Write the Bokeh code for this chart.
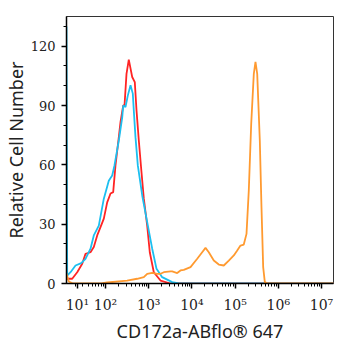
import numpy as np
from bokeh.plotting import figure
from bokeh.models import Range1d, FixedTicker
from bokeh.embed import file_html
from bokeh.resources import INLINE

# x positions in log10 display units (decades), y = relative cell number
red_x = [1.097, 1.229, 1.345, 1.461, 1.537, 1.653, 1.729, 1.808, 1.884, 1.961, 2.039, 2.116, 2.178,
         2.231, 2.308, 2.347, 2.410, 2.440, 2.486, 2.539, 2.618, 2.678, 2.718, 2.771, 2.826, 2.887,
         2.965, 3.025, 3.118, 3.273, 3.505, 7.28]
red_y = [2.4, 2.4, 5.7, 10.0, 15.0, 15.8, 18.4, 24.3, 28.5, 32.8, 41.0, 45.5, 46.2,
         59.7, 74.0, 81.6, 90.0, 90.0, 106.0, 113.2, 104.4, 101.8, 87.5, 72.3, 58.0, 42.9,
         29.3, 15.8, 5.7, 1.5, 0.0, 0.0]

blue_x = [1.097, 1.113, 1.190, 1.306, 1.437, 1.537, 1.653, 1.729, 1.845, 1.961, 2.076, 2.155, 2.208,
          2.308, 2.387, 2.410, 2.463, 2.516, 2.579, 2.632, 2.655, 2.694, 2.748, 2.850, 2.965,
          3.081, 3.181, 3.312, 3.544, 3.700, 7.28]
blue_y = [130.0, 4.0, 5.7, 9.1, 10.3, 12.5, 17.6, 24.3, 29.3, 42.9, 52.0, 54.6, 59.7,
          72.3, 84.0, 90.0, 89.2, 95.0, 100.2, 96.0, 87.5, 74.0, 59.7, 44.5, 31.0,
          17.6, 7.4, 3.2, 0.7, 0.0, 0.0]

orange_x = [1.097, 1.150, 1.250, 1.900, 2.039, 2.500, 2.733, 2.887, 2.965, 3.081, 3.197, 3.273, 3.350,
            3.505, 3.544, 3.660, 3.736, 3.812, 3.968, 4.123, 4.238, 4.315, 4.391, 4.507, 4.623,
            4.738, 4.854, 4.970, 5.049, 5.125, 5.201, 5.264, 5.317, 5.373, 5.433, 5.472, 5.512,
            5.572, 5.611, 5.650, 5.688, 5.750, 7.28]
orange_y = [5.0, 1.0, 0.0, 0.0, 0.5, 1.5, 2.4, 3.2, 4.9, 5.4, 4.9, 4.9, 5.7,
            6.1, 6.1, 5.3, 6.6, 6.9, 8.3, 12.5, 15.8, 18.0, 15.8, 11.6, 9.6,
            9.1, 11.6, 14.2, 16.7, 19.2, 19.7, 25.1, 47.0, 80.8, 106.0, 112.0, 106.0,
            72.3, 38.6, 8.3, 0.7, 0.0, 0.0]

x_tick_pos = [1.35, 2, 3, 4, 5, 6, 7]
x_tick_labels = ["10¹", "10²", "10³", "10⁴", "10⁵", "10⁶", "10⁷"]
y_ticks = [0, 30, 60, 90, 120]

p = figure(width=346, height=350, output_backend="svg", toolbar_location=None,
           x_range=Range1d(1.097, 7.278), y_range=Range1d(0, 135),
           min_border_left=66, min_border_right=13, min_border_top=16, min_border_bottom=67)
p.background_fill_color = "white"
p.border_fill_color = "white"
p.outline_line_color = "#333333"
p.outline_line_width = 1
p.xgrid.visible = False
p.ygrid.visible = False

p.line(red_x, red_y, line_color="#ff2424", line_width=1.8)
p.line(blue_x, blue_y, line_color="#1cbff0", line_width=1.8)
p.line(orange_x, orange_y, line_color="#ff9a30", line_width=1.8)

minor_x = [k + np.log10(m) for k in range(1, 8) for m in range(2, 10) if k + np.log10(m) < 7.278]
p.xaxis.ticker = FixedTicker(ticks=x_tick_pos, minor_ticks=minor_x)
p.xaxis.major_label_overrides = {t: l for t, l in zip(x_tick_pos, x_tick_labels)}
p.yaxis.ticker = FixedTicker(ticks=y_ticks, minor_ticks=list(range(0, 140, 10)))

for ax in (p.xaxis, p.yaxis):
    ax.axis_line_color = "black"
    ax.axis_line_width = 1.5
    ax.major_tick_line_color = "black"
    ax.minor_tick_line_color = "black"
    ax.major_tick_line_width = 1.5
    ax.minor_tick_line_width = 1
    ax.major_tick_out = 5
    ax.major_tick_in = 0
    ax.minor_tick_out = 3
    ax.minor_tick_in = 0
    ax.major_label_text_font = "DejaVu Serif"
    ax.major_label_text_color = "#222222"
    ax.axis_label_text_font = "Noto Sans"
    ax.axis_label_text_font_style = "normal"
    ax.axis_label_text_color = "#222222"

p.yaxis.major_label_text_font_size = "13px"
p.xaxis.major_label_text_font_size = "14px"
p.yaxis.axis_label_text_font_size = "18px"
p.xaxis.axis_label_text_font_size = "18px"
p.yaxis.major_label_standoff = 6
p.yaxis.axis_label_standoff = 0
p.xaxis.major_label_standoff = 8
p.xaxis.axis_label_standoff = 3
p.xaxis.axis_label = "CD172a-ABflo® 647"
p.yaxis.axis_label = "Relative Cell Number"

open("out.html", "w").write(file_html(p, INLINE))
